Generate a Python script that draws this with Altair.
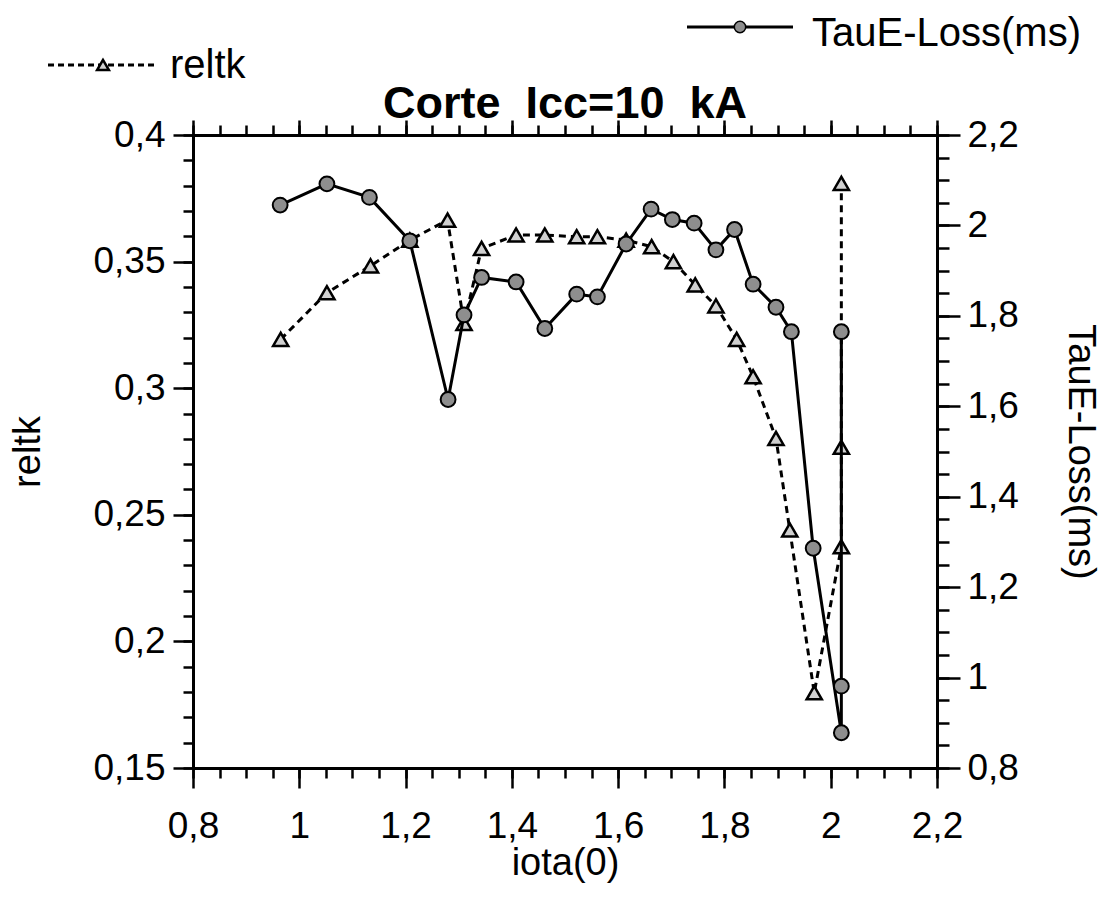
import altair as alt
import pandas as pd

# iota(0) positions and values of the two series
iota_tau = [0.964, 1.052, 1.132, 1.208, 1.280, 1.310, 1.343, 1.408, 1.462, 1.522,
            1.561, 1.615, 1.662, 1.702, 1.743, 1.784, 1.819, 1.854, 1.897, 1.926,
            1.967, 2.020, 2.020, 2.020]
taue_loss = [2.045, 2.092, 2.062, 1.966, 1.615, 1.802, 1.885, 1.875, 1.772, 1.848,
             1.842, 1.959, 2.036, 2.013, 2.005, 1.946, 1.991, 1.870, 1.819, 1.765,
             1.286, 0.878, 0.981, 1.765]

iota_rel = [0.965, 1.052, 1.134, 1.208, 1.279, 1.310, 1.343, 1.408, 1.462, 1.522,
            1.561, 1.615, 1.663, 1.704, 1.745, 1.784, 1.823, 1.854, 1.897, 1.923,
            1.969, 2.020, 2.020, 2.020]
reltk = [0.3193, 0.3377, 0.3483, 0.3585, 0.3664, 0.3256, 0.3552, 0.3605, 0.3605, 0.3598,
         0.3598, 0.3585, 0.3559, 0.3500, 0.3408, 0.3325, 0.3193, 0.3045, 0.2802, 0.2440,
         0.1797, 0.2374, 0.2767, 0.3809]

x_major = [0.8, 1.0, 1.2, 1.4, 1.6, 1.8, 2.0, 2.2]
x_minor = [round(0.8 + 0.05 * i, 2) for i in range(29)]
rel_major = [0.15, 0.2, 0.25, 0.3, 0.35, 0.4]
rel_minor = [round(0.15 + 0.01 * i, 2) for i in range(26)]
tau_major = [0.8, 1.0, 1.2, 1.4, 1.6, 1.8, 2.0, 2.2]
tau_minor = [round(0.8 + 0.05 * i, 2) for i in range(29)]

title_text = "Corte\u00a0\u00a0Icc=10\u00a0\u00a0kA"

tau_df = pd.DataFrame({"iota": iota_tau, "tau": taue_loss, "idx": range(len(iota_tau))})
rel_df = pd.DataFrame({"iota": iota_rel, "reltk": reltk, "idx": range(len(iota_rel))})
one_row = pd.DataFrame({"k": [0]})

FONT = "Liberation Sans"
LBL = 37
TTL = 38
CIRCLE_FILL = "#8e8e8e"
TRI_FILL = "#d0d0d0"


def comma(fmt):
    return f"replace(format(datum.value, '{fmt}'), '.', ',')"


def axis(orient, values, tick, labels=False, fmt=None, title=None, domain=False,
         label_pad=8, title_pad=0):
    kw = dict(orient=orient, values=values, tickSize=tick, tickColor="black",
              tickWidth=2.5, labels=labels, domain=domain, domainColor="black",
              domainWidth=3, grid=False, title=title)
    if labels:
        kw.update(labelExpr=comma(fmt), labelFont=FONT, labelFontSize=LBL,
                  labelColor="black", labelPadding=label_pad, labelFlush=False,
                  labelOverlap=False, labelBound=False)
    if title:
        kw.update(titleFont=FONT, titleFontSize=TTL, titleFontWeight="normal",
                  titleColor="black", titlePadding=title_pad)
    return alt.Axis(**kw)


x_scale = alt.Scale(domain=[0.8, 2.2], nice=False, zero=False)
rel_scale = alt.Scale(domain=[0.15, 0.4], nice=False, zero=False)
tau_scale = alt.Scale(domain=[0.8, 2.2], nice=False, zero=False)

# reltk: dashed line with triangles (left axis)
rel_line = alt.Chart(rel_df).mark_line(
    color="black", strokeWidth=3, strokeDash=[7, 5]
).encode(
    x=alt.X("iota:Q", scale=x_scale,
            axis=axis("bottom", x_major, 20, True, ".1~f", "iota(0)", True,
                      label_pad=20, title_pad=0)),
    y=alt.Y("reltk:Q", scale=rel_scale,
            axis=axis("left", rel_major, 20, True, ".2~f", "reltk", True,
                      label_pad=8, title_pad=45)),
    order=alt.Order("idx:Q"),
)
rel_pts = alt.Chart(rel_df).mark_point(
    shape="triangle-up", filled=True, size=230, fill=TRI_FILL,
    stroke="black", strokeWidth=2.5, opacity=1
).encode(
    x=alt.X("iota:Q", scale=x_scale, axis=None),
    y=alt.Y("reltk:Q", scale=rel_scale, axis=None),
)
rel_ticks = alt.Chart(rel_df).mark_point(opacity=0).encode(
    x=alt.X("iota:Q", scale=x_scale, axis=axis("bottom", x_minor, 10)),
    y=alt.Y("reltk:Q", scale=rel_scale, axis=axis("left", rel_minor, 10)),
)

# TauE-Loss: solid line with circles (right axis)
tau_line = alt.Chart(tau_df).mark_line(color="black", strokeWidth=3).encode(
    x=alt.X("iota:Q", scale=x_scale, axis=axis("top", x_major, 15, domain=True)),
    y=alt.Y("tau:Q", scale=tau_scale,
            axis=axis("right", tau_major, 23, True, ".1~f", "TauE-Loss(ms)", True,
                      label_pad=7, title_pad=42)),
    order=alt.Order("idx:Q"),
)
tau_pts = alt.Chart(tau_df).mark_point(
    shape="circle", filled=True, size=220, fill=CIRCLE_FILL,
    stroke="black", strokeWidth=2, opacity=1
).encode(
    x=alt.X("iota:Q", scale=x_scale, axis=None),
    y=alt.Y("tau:Q", scale=tau_scale, axis=None),
)
tau_ticks = alt.Chart(tau_df).mark_point(opacity=0).encode(
    x=alt.X("iota:Q", scale=x_scale, axis=axis("top", x_minor, 10)),
    y=alt.Y("tau:Q", scale=tau_scale, axis=axis("right", tau_minor, 12)),
)

# heading and key entries above the frame
leg = alt.Chart(one_row)
heading = leg.mark_text(align="center", baseline="alphabetic", font=FONT,
                        fontSize=45, fontWeight="bold", color="black").encode(
    x=alt.value(372), y=alt.value(-17), text=alt.value(title_text))

tau_key_line = leg.mark_rule(color="black", strokeWidth=3).encode(
    x=alt.value(494), x2=alt.value(600), y=alt.value(-108))
tau_key_pt = leg.mark_point(shape="circle", filled=True, size=130, fill=CIRCLE_FILL,
                            stroke="black", strokeWidth=1.5, opacity=1).encode(
    x=alt.value(547), y=alt.value(-108))
tau_key_txt = leg.mark_text(align="left", baseline="alphabetic", font=FONT,
                            fontSize=40, color="black").encode(
    x=alt.value(619), y=alt.value(-89), text=alt.value("TauE-Loss(ms)"))

rel_key_line = leg.mark_rule(color="black", strokeWidth=3, strokeDash=[6, 4]).encode(
    x=alt.value(-145), x2=alt.value(-38), y=alt.value(-70))
rel_key_pt = leg.mark_point(shape="triangle-up", filled=True, size=140, fill=TRI_FILL,
                            stroke="black", strokeWidth=2.5, opacity=1).encode(
    x=alt.value(-90), y=alt.value(-70))
rel_key_txt = leg.mark_text(align="left", baseline="alphabetic", font=FONT,
                            fontSize=40, color="black").encode(
    x=alt.value(-23), y=alt.value(-57), text=alt.value("reltk"))

chart = alt.layer(
    rel_ticks, tau_ticks, rel_line, rel_pts, tau_line, tau_pts, heading,
    tau_key_line, tau_key_pt, tau_key_txt, rel_key_line, rel_key_pt, rel_key_txt,
).resolve_scale(
    y="independent"
).resolve_axis(
    x="independent", y="independent"
).properties(
    width=744,
    height=633,
    autosize=alt.AutoSizeParams(type="none"),
    padding={"left": 193, "top": 135, "right": 165, "bottom": 130},
).configure_view(
    stroke=None
).configure(
    background="white"
)

chart.save("out.html", embed_options={"renderer": "svg", "actions": False})
